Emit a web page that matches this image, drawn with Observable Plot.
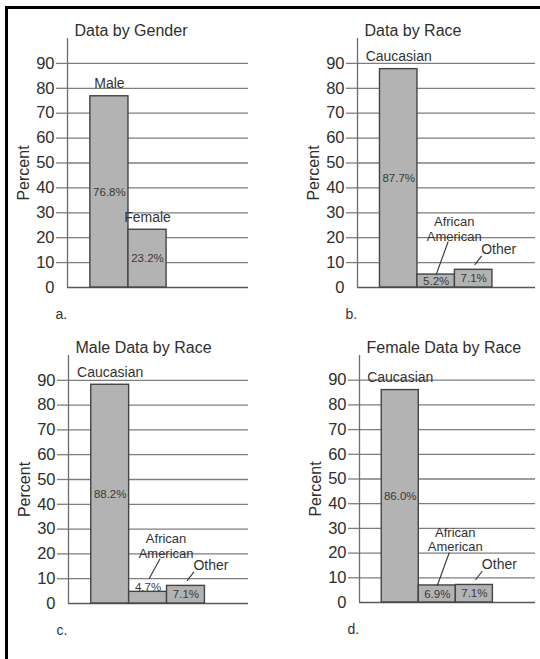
<!DOCTYPE html>
<html>
<head>
<meta charset="utf-8">
<script src="https://cdn.jsdelivr.net/npm/d3@7"></script>
<script src="https://cdn.jsdelivr.net/npm/@observablehq/plot@0.6"></script>
<style>
  html, body { margin: 0; padding: 0; background: #fff; }
  #wrap { position: relative; width: 540px; height: 659px; overflow: hidden; background: #fff;
          font-family: "Liberation Sans", Arial, Helvetica, sans-serif; }
  .panel { position: absolute; }
  .panel svg { background: transparent !important; }
  .border { position: absolute; background: #000; z-index: 5; }
</style>
</head>
<body>
<div id="wrap"></div>
<script>
// ---------- data ----------
const genderCategories = ["Male", "Female"];
const genderValues = [76.8, 23.2];
const raceCategories = ["Caucasian", "African American", "Other"];
const raceValues = [87.7, 5.2, 7.1];
const maleRaceValues = [88.2, 4.7, 7.1];
const femaleRaceValues = [86.0, 6.9, 7.1];
const yTicks = [0, 10, 20, 30, 40, 50, 60, 70, 80, 90];
const panelTitles = ["Data by Gender", "Data by Race", "Male Data by Race", "Female Data by Race"];
const panelLetters = ["a.", "b.", "c.", "d."];
const yLabel = "Percent";

(function () {
// ---------- layout (code, not data) ----------
const FONT = '"Liberation Sans", Arial, Helvetica, sans-serif';
const X_DOMAIN = [-0.6, 4.15];
const layouts = [
  {left: 0,   top: 0,   width: 270, height: 330, mt: 38, mb: 43, ml: 67, mr: 22},
  {left: 270, top: 0,   width: 270, height: 330, mt: 38, mb: 43, ml: 87, mr: 5},
  {left: 0,   top: 330, width: 270, height: 329, mt: 25, mb: 56, ml: 68, mr: 22},
  {left: 270, top: 330, width: 270, height: 329, mt: 25, mb: 57, ml: 89, mr: 5}
];
const panels = [
  {cats: genderCategories, values: genderValues},
  {cats: raceCategories, values: raceValues},
  {cats: raceCategories, values: maleRaceValues},
  {cats: raceCategories, values: femaleRaceValues}
];

const wrap = document.getElementById("wrap");

panels.forEach((p, k) => {
  const L = layouts[k];
  const frameW = L.width - L.ml - L.mr;
  const frameH = L.height - L.mt - L.mb;
  const pxX = frameW / (X_DOMAIN[1] - X_DOMAIN[0]); // px per x unit
  const pxY = frameH / 100;                          // px per y unit
  const data = p.cats.map((c, i) => ({cat: c, i, value: p.values[i], label: p.values[i].toFixed(1) + "%"}));
  const big = data.filter(d => d.value >= 20);
  const small = data.filter(d => d.value < 20);
  const isAA = d => d.cat === "African American";
  const inside = data.filter(d => d.value >= 5);
  const above = data.filter(d => d.value < 5);

  const leaders = small.map(d => {
    const s = isAA(d) ? (d.value < 5 ? [1, -13] : [0, 0]) : [1, -5];
    const e = isAA(d) ? [12, -33] : [8, -14];
    return {
      x1: d.i + 0.5 + s[0] / pxX, y1: d.value - s[1] / pxY,
      x2: d.i + 0.5 + e[0] / pxX, y2: d.value - e[1] / pxY
    };
  });

  const chart = Plot.plot({
    width: L.width,
    height: L.height,
    marginTop: L.mt, marginBottom: L.mb, marginLeft: L.ml, marginRight: L.mr,
    style: {fontFamily: FONT, fontSize: "15px", color: "#333", background: "transparent", overflow: "visible"},
    x: {domain: X_DOMAIN, axis: null},
    y: {domain: [0, 100], axis: null, label: null},
    marks: [
      Plot.ruleY(yTicks.filter(t => t > 0), {stroke: "#7e7e7e", strokeWidth: 1.3}),
      Plot.ruleY([0], {stroke: "#5a5a5a", strokeWidth: 1.5}),
      Plot.ruleX([X_DOMAIN[0]], {stroke: "#6e6e6e", strokeWidth: 1.3}),
      Plot.axisY(yTicks.filter(t => t > 0), {anchor: "left", tickSize: 11, tickPadding: 2, stroke: "#7e7e7e",
        strokeWidth: 1.3, fill: "#2e2e2e", fontSize: 16.5, label: null}),
      Plot.axisY([0], {anchor: "left", tickSize: 0, tickPadding: 13, fill: "#2e2e2e", fontSize: 16.5, label: null}),
      Plot.text([yLabel], {frameAnchor: "left", textAnchor: "middle", lineAnchor: "middle", rotate: -90,
        dx: -44, dy: 10, fontSize: 16, fill: "#2e2e2e"}),
      Plot.rectY(data, {x1: d => d.i, x2: d => d.i + 1, y: "value", fill: "#b3b3b3", stroke: "#444", strokeWidth: 1.4}),
      Plot.text(inside, {x: d => d.i + 0.5, y: d => d.value / 2, text: "label", fontSize: 11.5, fill: "#3a3a3a"}),
      Plot.text(above, {x: d => d.i + 0.5, y: "value", text: "label", fontSize: 11.5, fill: "#3a3a3a", lineAnchor: "bottom", dy: -1}),
      Plot.text(big, {x: d => d.i + 0.5, y: "value", text: "cat", fontSize: 14, fill: "#333", lineAnchor: "bottom", dy: -8}),
      Plot.text(small.filter(isAA), {x: d => d.i + 0.5, y: "value", text: () => "African\nAmerican", fontSize: 13,
        fill: "#333", lineAnchor: "bottom", lineHeight: 1.12, dx: 18, dy: -34}),
      Plot.text(small.filter(d => !isAA(d)), {x: d => d.i + 0.5, y: "value", text: "cat", fontSize: 14,
        fill: "#333", dx: 25, dy: -20}),
      Plot.link(leaders, {x1: "x1", y1: "y1", x2: "x2", y2: "y2", stroke: "#333", strokeWidth: 1.1}),
      Plot.text([panelTitles[k]], {frameAnchor: "top-left", textAnchor: "start", lineAnchor: "middle",
        dx: 7, dy: -8, fontSize: 16, fill: "#2e2e2e"}),
      Plot.text([panelLetters[k]], {frameAnchor: "bottom-left", textAnchor: "start", lineAnchor: "middle",
        dx: -12, dy: 27, fontSize: 14, fill: "#333"})
    ]
  });
  const div = document.createElement("div");
  div.className = "panel";
  div.style.left = L.left + "px";
  div.style.top = L.top + "px";
  div.appendChild(chart);
  wrap.appendChild(div);
});

const borderTop = document.createElement("div");
borderTop.className = "border";
Object.assign(borderTop.style, {left: "5px", top: "6px", width: "540px", height: "3px"});
const borderLeft = document.createElement("div");
borderLeft.className = "border";
Object.assign(borderLeft.style, {left: "5px", top: "6px", width: "3px", height: "660px"});
wrap.appendChild(borderTop);
wrap.appendChild(borderLeft);
})();
</script>
</body>
</html>
